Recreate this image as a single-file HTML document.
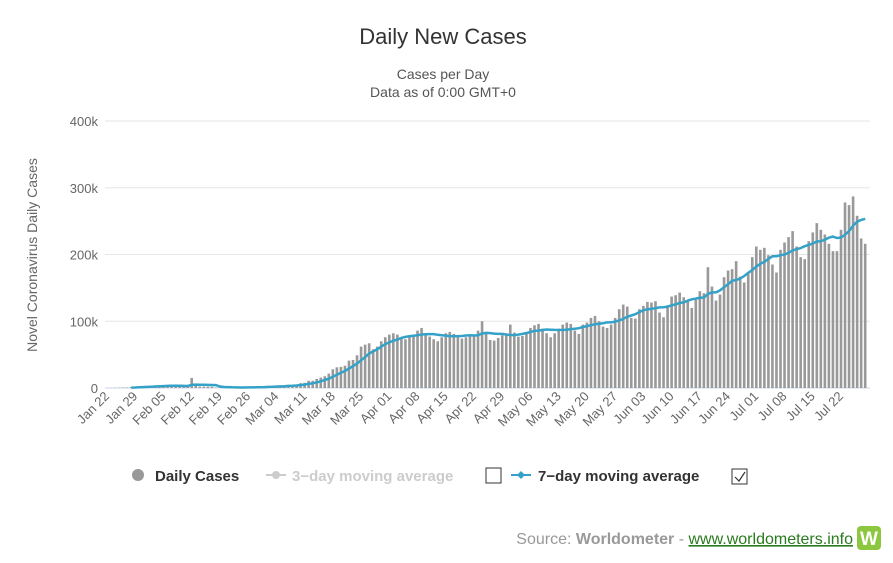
<!DOCTYPE html>
<html><head><meta charset="utf-8"><style>
body{margin:0;background:#fff;font-family:"Liberation Sans",sans-serif;}
#wrap{position:relative;width:893px;height:563px;overflow:hidden;}
</style></head><body>
<div id="wrap">
<svg id="chart" width="893" height="563" style="position:absolute;left:0;top:0">
<text x="443" y="44" text-anchor="middle" font-size="22" fill="#333">Daily New Cases</text>
<text x="443" y="79" text-anchor="middle" font-size="14" fill="#555">Cases per Day</text>
<text x="443" y="97" text-anchor="middle" font-size="14" fill="#555">Data as of 0:00 GMT+0</text>
<text transform="translate(37,255) rotate(-90)" text-anchor="middle" font-size="14" fill="#666">Novel Coronavirus Daily Cases</text>
<g id="grid"></g><g id="bars"></g><g id="line"></g><g id="xlabels"></g>
<g>
<g><circle cx="138" cy="475" r="6" fill="#999"/><text x="155" y="481" font-size="15" font-weight="bold" fill="#333">Daily Cases</text></g>
<g><line x1="266" y1="475" x2="286" y2="475" stroke="#ccc" stroke-width="2"/><circle cx="276" cy="475" r="4" fill="#ccc"/><text x="292" y="481" font-size="15" font-weight="bold" fill="#ccc">3−day moving average</text></g>
<rect x="486" y="468" width="15" height="15" fill="#fff" stroke="#333"/>
<g><line x1="511" y1="475" x2="531" y2="475" stroke="#34a2c8" stroke-width="2"/><path d="M521 471 L525 475 L521 479 L517 475Z" fill="#34a2c8"/><text x="538" y="481" font-size="15" font-weight="bold" fill="#333">7−day moving average</text></g>
<rect x="732" y="469" width="15" height="15" fill="#fff" stroke="#333"/>
<path d="M735 477 L739 481 L745 472" fill="none" stroke="#333" stroke-width="1.2"/>
</g>
<text x="853" y="544" text-anchor="end" font-size="16" fill="#999">Source: <tspan font-weight="bold">Worldometer</tspan> - <tspan fill="#2a7a1f" text-decoration="underline">www.worldometers.info</tspan></text>
<rect x="857" y="526" width="24" height="24" rx="4" fill="#8dc63f"/>
<text x="869" y="545" text-anchor="middle" font-size="19" font-weight="bold" fill="#fff">W</text>
</svg>
</div>
<script>
const startLabel = ["Jan 22","Jan 29","Feb 05","Feb 12","Feb 19","Feb 26","Mar 04","Mar 11","Mar 18","Mar 25","Apr 01","Apr 08","Apr 15","Apr 22","Apr 29","May 06","May 13","May 20","May 27","Jun 03","Jun 10","Jun 17","Jun 24","Jul 01","Jul 08","Jul 15","Jul 22"];
const yTicks = [0,100000,200000,300000,400000];
const yTickLabels = ["0","100k","200k","300k","400k"];
// daily cases in thousands, Jan 22 .. Jul 28
const dailyK = [0.1,0.1,0.3,0.5,0.7,0.8,1.5,1.7,2,2.1,
2.6,2.8,3.2,3.9,3.7,3.2,3.4,2.7,3,2.5,2.1,15.1,6.5,2.2,2.1,2.0,1.9,0.6,0.6,1,0.8,0.7,0.5,0.8,0.9,1.1,1.4,1.8,2,
1.9,2.4,2.3,2.8,3.6,4.2,4.3,3.9,4.6,7.3,7.8,10.8,10.9,13.6,15.6,17.6,21.5,28,31,31.6,33.4,41,42,49,62,65,67,58,62,70,76,
80,82,80,75,73,77,80,86,90,82,77,73,70,76,82,84,81,78,74,76,79,79,86,100,84,72,71,75,79,80,
95,83,77,78,84,90,94,96,89,82,76,82,89,95,98,96,86,81,95,98,105,108,100,92,90,95,105,118,125,122,105,
104,118,123,129,128,130,113,106,124,137,139,143,136,131,120,132,145,142,181,152,131,140,166,176,178,190,167,158,172,196,
212,207,210,199,185,173,207,218,226,235,212,196,193,220,233,247,237,230,216,205,205,237,278,274,287,258,224,216];
const NS="http://www.w3.org/2000/svg";
const x0=107, pxDay=734/182, yBase=388, yTop=121, yMax=400000;
const xs=d=>x0+d*pxDay, ys=v=>yBase-(v/yMax)*(yBase-yTop);
function mk(t,a,p){const e=document.createElementNS(NS,t);for(const k in a)e.setAttribute(k,a[k]);p.appendChild(e);return e;}
const grid=document.getElementById('grid');
yTicks.forEach((v,i)=>{
  const l=mk('line',{x1:105,x2:870,y1:ys(v),y2:ys(v),stroke:i?'#e6e6e6':'#ccd6eb','stroke-width':1},grid);
  
  
  const t=mk('text',{x:98,y:ys(v)+5,'text-anchor':'end','font-size':13,fill:'#666'},grid);
  t.textContent=yTickLabels[i];
  
  
});
const bars=document.getElementById('bars');
dailyK.forEach((v,d)=>{
  const y=ys(v*1000);
  const r=mk('rect',{x:xs(d)-1.3,y:y,width:2.6,height:Math.max(0,yBase-y),fill:'#999'},bars);
  
  
});
let pts=[];
for(let d=6;d<dailyK.length;d++){let s=0;for(let k=d-6;k<=d;k++)s+=dailyK[k];pts.push(xs(d).toFixed(1)+','+ys(s/7*1000).toFixed(1));}
const pl=mk('polyline',{points:pts.join(' '),fill:'none',stroke:'#34a2c8','stroke-width':2.5},document.getElementById('line'));


const xl=document.getElementById('xlabels');
startLabel.forEach((s,i)=>{
  const x=xs(i*7);
  const t=mk('text',{transform:`translate(${x+3},${397}) rotate(-45)`,'text-anchor':'end','font-size':13,fill:'#666'},xl);
  t.textContent=s;
  
  
});
</script>
</body></html>
